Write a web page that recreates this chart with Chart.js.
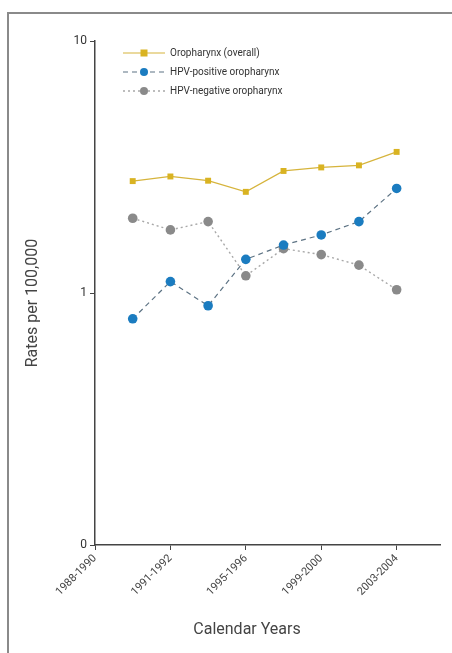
<!DOCTYPE html>
<html>
<head>
<meta charset="utf-8">
<script src="https://cdn.jsdelivr.net/npm/chart.js@4/dist/chart.umd.min.js"></script>
<style>
html,body{margin:0;padding:0;background:#fff;}
#wrap{position:relative;width:452px;height:653px;overflow:hidden;}
#frame{position:absolute;left:7px;top:12px;width:460px;height:700px;border-left:2px solid #8a8a8a;border-top:2px solid #8a8a8a;box-sizing:border-box;}
canvas{position:absolute;left:0;top:0;}
</style>
</head>
<body>
<div id="wrap"><div id="frame"></div><canvas id="c" width="452" height="653"></canvas></div>
<script>
// ---- data ----
const periods = ['1989-1990','1991-1992','1993-1994','1995-1996','1997-1998','1999-2000','2001-2002','2003-2004'];
const overall = [2.78, 2.90, 2.79, 2.52, 3.05, 3.15, 3.21, 3.63];
const hpvPositive = [0.79, 1.11, 0.89, 1.36, 1.55, 1.70, 1.92, 2.60];
const hpvNegative = [1.98, 1.78, 1.92, 1.17, 1.50, 1.42, 1.29, 1.03];
const xTickLabels = ['1988-1990','1991-1992','1995-1996','1999-2000','2003-2004'];
const yTickValues = [0.1, 1, 10];
const yTickLabels = ['0', '1', '10'];
const seriesNames = ['Oropharynx (overall)','HPV-positive oropharynx','HPV-negative oropharynx'];
const xTitle = 'Calendar Years';
const yTitle = 'Rates per 100,000';

const pts = arr => arr.map((v,i)=>({x:i+1,y:v}));
const FONT = 'Roboto, "Liberation Sans", sans-serif';

const legendPlugin = {
  id:'customLegend',
  afterDraw(chart){
    const ctx = chart.ctx;
    const x0 = 123, x1 = 165, tx = 170;
    const rows = [53, 72, 91];
    chart.data.datasets.forEach((ds,i)=>{
      const y = rows[i];
      ctx.save();
      ctx.strokeStyle = ds.borderColor;
      ctx.lineWidth = ds.borderWidth;
      ctx.setLineDash(ds.borderDash || []);
      ctx.beginPath(); ctx.moveTo(x0,y); ctx.lineTo(x1,y); ctx.stroke();
      ctx.setLineDash([]);
      ctx.fillStyle = ds.pointBackgroundColor;
      const mx = (x0+x1)/2;
      if (ds.pointStyle === 'rect') { ctx.fillRect(mx-3.5,y-3.5,7,7); }
      else { ctx.beginPath(); ctx.arc(mx,y,4,0,Math.PI*2); ctx.fill(); }
      ctx.fillStyle = '#333';
      ctx.font = '10px ' + FONT;
      ctx.textBaseline = 'middle';
      ctx.fillText(ds.label, tx, y);
      ctx.restore();
    });
    // axis titles
    ctx.save();
    ctx.fillStyle = '#444';
    ctx.font = '16px ' + FONT;
    ctx.textAlign = 'center';
    ctx.textBaseline = 'middle';
    ctx.fillText(xTitle, 247, 630);
    ctx.translate(33, 303);
    ctx.rotate(-Math.PI/2);
    ctx.fillText(yTitle, 0, 0);
    ctx.restore();
  }
};

new Chart(document.getElementById('c'), {
  type:'line',
  data:{
    datasets:[
      {label:seriesNames[0], data:pts(overall), borderColor:'#d6b43c', borderWidth:1.2,
       pointStyle:'rect', pointRadius:4.2, pointBackgroundColor:'#d9b322', pointBorderWidth:0},
      {label:seriesNames[1], data:pts(hpvPositive), borderColor:'#5d7384', borderWidth:1.2, borderDash:[5,4],
       pointStyle:'circle', pointRadius:4.8, pointBackgroundColor:'#1b7cc0', pointBorderWidth:0},
      {label:seriesNames[2], data:pts(hpvNegative), borderColor:'#a8a8a8', borderWidth:1.4, borderDash:[2,3],
       pointStyle:'circle', pointRadius:4.8, pointBackgroundColor:'#8a8a8a', pointBorderWidth:0}
    ]
  },
  options:{
    responsive:false, animation:false,
    layout:{padding:{top:41,right:12,left:0,bottom:0}},
    plugins:{legend:{display:false}, tooltip:{enabled:false}},
    scales:{
      x:{
        type:'linear', min:0, max:9.15,
        afterBuildTicks(s){ s.ticks = xTickLabels.map((l,i)=>({value:i*2})); },
        afterFit(s){ s.height = 108; },
        ticks:{
          callback:(v,i)=>xTickLabels[i],
          maxRotation:45, minRotation:45, autoSkip:false,
          color:'#444', font:{size:11, family:FONT}, padding:2
        },
        grid:{drawOnChartArea:false, drawTicks:true, tickLength:5, color:'#444'},
        border:{color:'#444', width:1.5}
      },
      y:{
        type:'logarithmic', min:0.1, max:10,
        afterBuildTicks(s){ s.ticks = yTickValues.map(v=>({value:v})); },
        afterFit(s){ s.width = 95; },
        ticks:{
          callback:(v,i)=>yTickLabels[i],
          color:'#333', font:{size:12, family:FONT}, padding:3
        },
        grid:{drawOnChartArea:false, drawTicks:true, tickLength:5, color:'#444'},
        border:{color:'#444', width:1.5}
      }
    }
  },
  plugins:[legendPlugin]
});
</script>
</body>
</html>
